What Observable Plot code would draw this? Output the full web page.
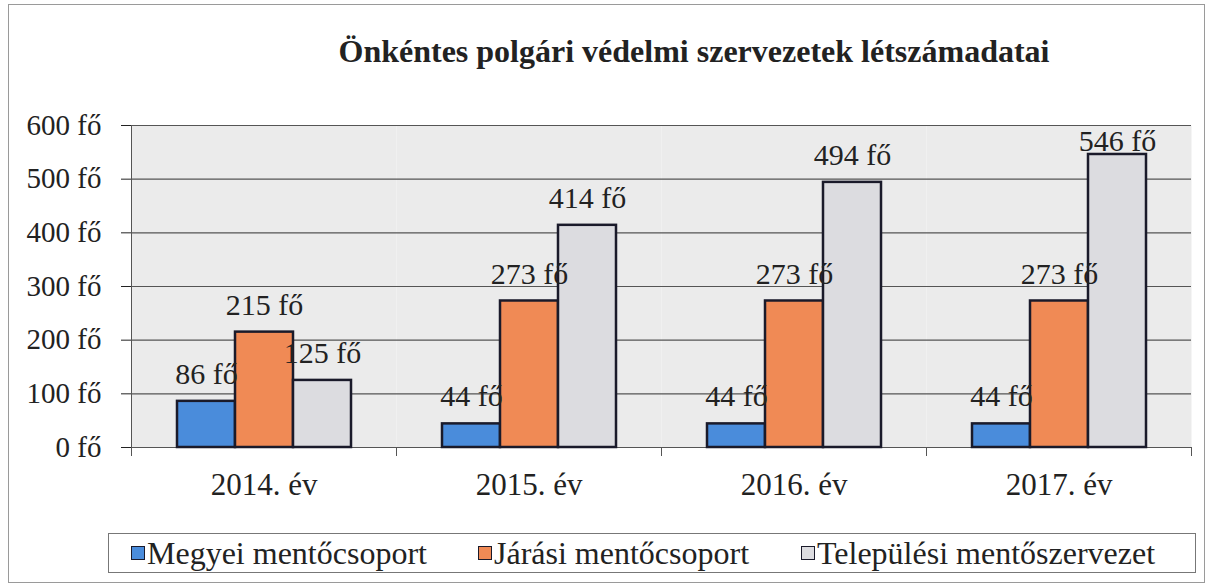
<!DOCTYPE html>
<html>
<head>
<meta charset="utf-8">
<script src="https://cdn.jsdelivr.net/npm/d3@7"></script>
<script src="https://cdn.jsdelivr.net/npm/@observablehq/plot@0.6"></script>
<style>
  html, body { margin: 0; padding: 0; background: #fff; }
  #frame, #frame * { font-family: "Liberation Serif", "Times New Roman", "DejaVu Serif", serif !important; }
  #frame { position: absolute; left: 8px; top: 4px; width: 1197px; height: 579px; border: 1px solid #9a9a9a; box-sizing: border-box; color: #222; }
  #title { position: absolute; top: 26px; left: 170px; width: 1030px; text-align: center; font-weight: bold; font-size: 32px; line-height: 40px; }
  #chart { position: absolute; left: 0; top: 91px; }
  #legend { position: absolute; left: 99px; top: 528px; width: 1088px; height: 40px; border: 1px solid #777; box-sizing: border-box; font-size: 32px; }
  .item { position: absolute; top: 0; height: 38px; display: flex; align-items: center; white-space: nowrap; }
  .sw { width: 12px; height: 12px; border: 1.5px solid #1a1a2a; margin-right: 2px; }
</style>
</head>
<body>
<div id="frame">
  <div id="title">Önkéntes polgári védelmi szervezetek létszámadatai</div>
  <div id="chart"></div>
  <div id="legend"></div>
</div>
<script>
const years = ["2014. év", "2015. év", "2016. év", "2017. év"];
const series = ["Megyei mentőcsoport", "Járási mentőcsoport", "Települési mentőszervezet"];
const megyei = [86, 44, 44, 44];
const jarasi = [215, 273, 273, 273];
const telepulesi = [125, 414, 494, 546];
const yTicks = [0, 100, 200, 300, 400, 500, 600];
const colors = ["#4a8cdb", "#f08a55", "#dcdce0"];

const values = [megyei, jarasi, telepulesi];
const data = [];
years.forEach((yr, i) => series.forEach((s, j) => data.push({year: yr, series: s, value: values[j][i]})));

const W = 1194, H = 392, mT = 29, mB = 41, mL = 121, mR = 12;
const plotH = H - mT - mB;
const labelCap = 521; // labels clamped inside the plot area, as in the source

const chart = Plot.plot({
  width: W, height: H,
  marginTop: mT, marginBottom: mB, marginLeft: mL, marginRight: mR,
  style: "font-family: 'Liberation Serif', 'Times New Roman', serif; font-size: 29px; color: #222; background: transparent; overflow: visible;",
  fx: {domain: years, padding: 0, label: null},
  x: {domain: series, paddingInner: 0, paddingOuter: 0.75, axis: null},
  y: {domain: [0, 600], label: null},
  color: {domain: series, range: colors},
  marks: [
    Plot.frame({fill: "#ebebeb", stroke: null}),
    Plot.gridY(yTicks, {stroke: "#555", strokeOpacity: 1, strokeWidth: 1.2}),
    Plot.axisY(yTicks, {tickSize: 10, tickPadding: 20, tickFormat: d => `${d} fő`, fontSize: 29, label: null}),
    Plot.axisFx({anchor: "bottom", tickSize: 0, tickPadding: 25, fontSize: 31, label: null}),
    Plot.frame({anchor: "left", insetTop: plotH, insetBottom: -8, stroke: "#555"}),
    Plot.frame({anchor: "right", insetTop: plotH, insetBottom: -8, stroke: "#555"}),
    Plot.frame({anchor: "left", facet: "super", stroke: "#555", insetBottom: -8}),
    Plot.barY(data, {fx: "year", x: "series", y: "value", fill: "series", stroke: "#1a1a2a", strokeWidth: 2.5}),
    Plot.text(data, {fx: "year", x: "series", y: d => Math.min(d.value, labelCap), text: d => `${d.value} fő`, dy: -27, fontSize: 30, fill: "#222"})
  ]
});
document.getElementById("chart").appendChild(chart);

const legendLefts = [22, 369, 692];
const legend = document.getElementById("legend");
series.forEach((s, i) => {
  const it = document.createElement("div");
  it.className = "item";
  it.style.left = legendLefts[i] + "px";
  const sw = document.createElement("div");
  sw.className = "sw";
  sw.style.background = colors[i];
  const t = document.createElement("span");
  t.textContent = s;
  it.appendChild(sw); it.appendChild(t);
  legend.appendChild(it);
});
</script>
</body>
</html>
